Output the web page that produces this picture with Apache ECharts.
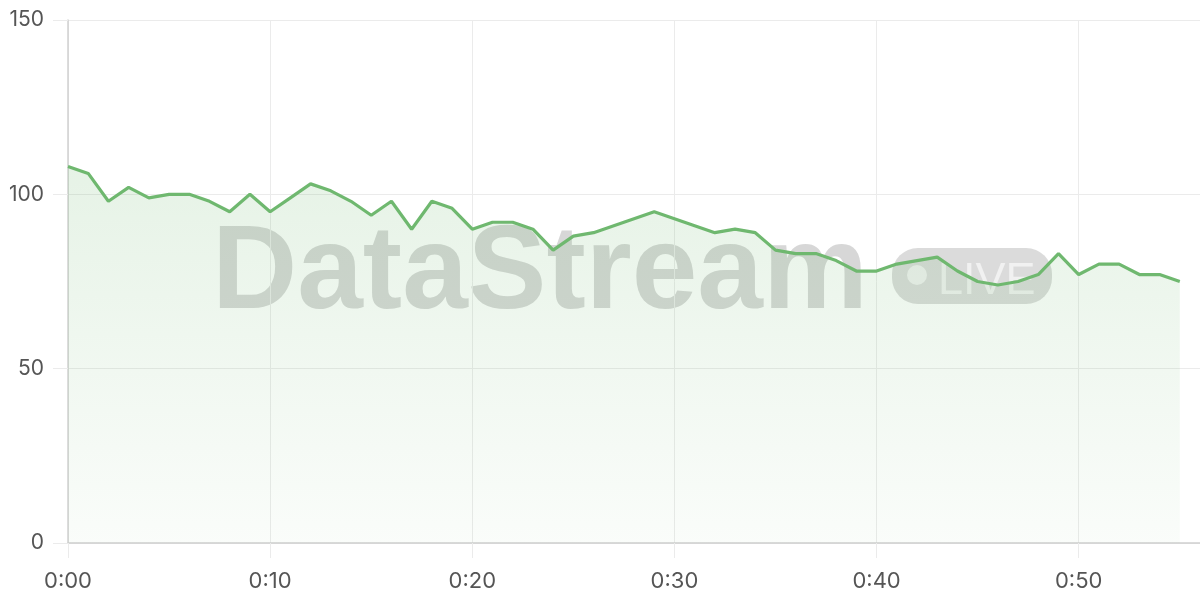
<!DOCTYPE html>
<html>
<head>
<meta charset="utf-8">
<script src="https://cdn.jsdelivr.net/npm/echarts@6/dist/echarts.min.js"></script>
<style>
html,body{margin:0;padding:0;background:#fff;}
#chart{width:1200px;height:600px;}
</style>
</head>
<body>
<div id="chart"></div>
<script>
const minutes = [0,1,2,3,4,5,6,7,8,9,10,11,12,13,14,15,16,17,18,19,20,21,22,23,24,25,26,27,28,29,30,31,32,33,34,35,36,37,38,39,40,41,42,43,44,45,46,47,48,49,50,51,52,53,54,55];
const values = [108,106,98,102,99,100,100,98,95,100,95,99,103,101,98,94,98,90,98,96,90,92,92,90,84,88,89,91,93,95,93,91,89,90,89,84,83,83,81,78,78,80,81,82,78,75,74,75,77,83,77,80,80,77,77,75];
const yTicks = [0,50,100,150];
const xTickMinutes = [0,10,20,30,40,50];
const watermarkText = 'DataStream';
const badgeText = 'LIVE';

const seriesData = minutes.map((m, i) => [m, values[i]]);
const fontFam = 'Inter, "Liberation Sans", sans-serif';

const chart = echarts.init(document.getElementById('chart'));
chart.setOption({
  animation: false,
  backgroundColor: '#ffffff',
  grid: { left: 68, right: 0, top: 20, bottom: 57, containLabel: false },
  graphic: [
    {
      type: 'text', z: 0, silent: true,
      left: 212, top: 216,
      style: { text: watermarkText, font: 'bold 118px "Liberation Sans", Arial, sans-serif', fill: 'rgba(110,110,110,0.28)' }
    },
    {
      type: 'rect', z: 0, silent: true,
      left: 892, top: 248,
      shape: { width: 160, height: 56, r: 26 },
      style: { fill: 'rgba(110,110,110,0.25)' }
    },
    {
      type: 'circle', z: 0, silent: true,
      left: 907, top: 265,
      shape: { r: 10 },
      style: { fill: 'rgba(255,255,255,0.6)' }
    },
    {
      type: 'text', z: 0, silent: true,
      left: 938, top: 259,
      style: { text: badgeText, font: '45px "Liberation Sans", Arial, sans-serif', fill: 'rgba(255,255,255,0.6)' }
    }
  ],
  xAxis: {
    type: 'value', min: 0, max: 56, interval: 10,
    axisLine: { show: true, lineStyle: { color: '#d0d0d0', width: 1.5 } },
    axisTick: { show: true, length: 15, lineStyle: { color: '#ebebeb', width: 1 } },
    splitLine: { show: true, lineStyle: { color: '#ebebeb', width: 1 } },
    axisLabel: {
      margin: 27, fontSize: 22, color: '#555', fontFamily: fontFam,
      showMaxLabel: false,
      formatter: v => xTickMinutes.indexOf(v) >= 0 ? '0:' + String(v).padStart(2, '0') : ''
    }
  },
  yAxis: {
    type: 'value', min: yTicks[0], max: yTicks[yTicks.length - 1], interval: 50,
    axisLine: { show: true, lineStyle: { color: '#d0d0d0', width: 1.5 } },
    axisTick: { show: true, length: 15, lineStyle: { color: '#ebebeb', width: 1 } },
    splitLine: { show: true, lineStyle: { color: '#ebebeb', width: 1 } },
    axisLabel: { margin: 24, fontSize: 21, color: '#555', fontFamily: fontFam }
  },
  series: [{
    type: 'line',
    data: seriesData,
    showSymbol: false,
    symbol: 'none',
    lineStyle: { color: '#6fb86f', width: 3.2 },
    itemStyle: { color: '#6fb86f' },
    areaStyle: {
      color: new echarts.graphic.LinearGradient(0, 0, 0, 1, [
        { offset: 0, color: 'rgba(114,185,114,0.25)' },
        { offset: 1, color: 'rgba(114,185,114,0.05)' }
      ])
    }
  }]
});
</script>
</body>
</html>
